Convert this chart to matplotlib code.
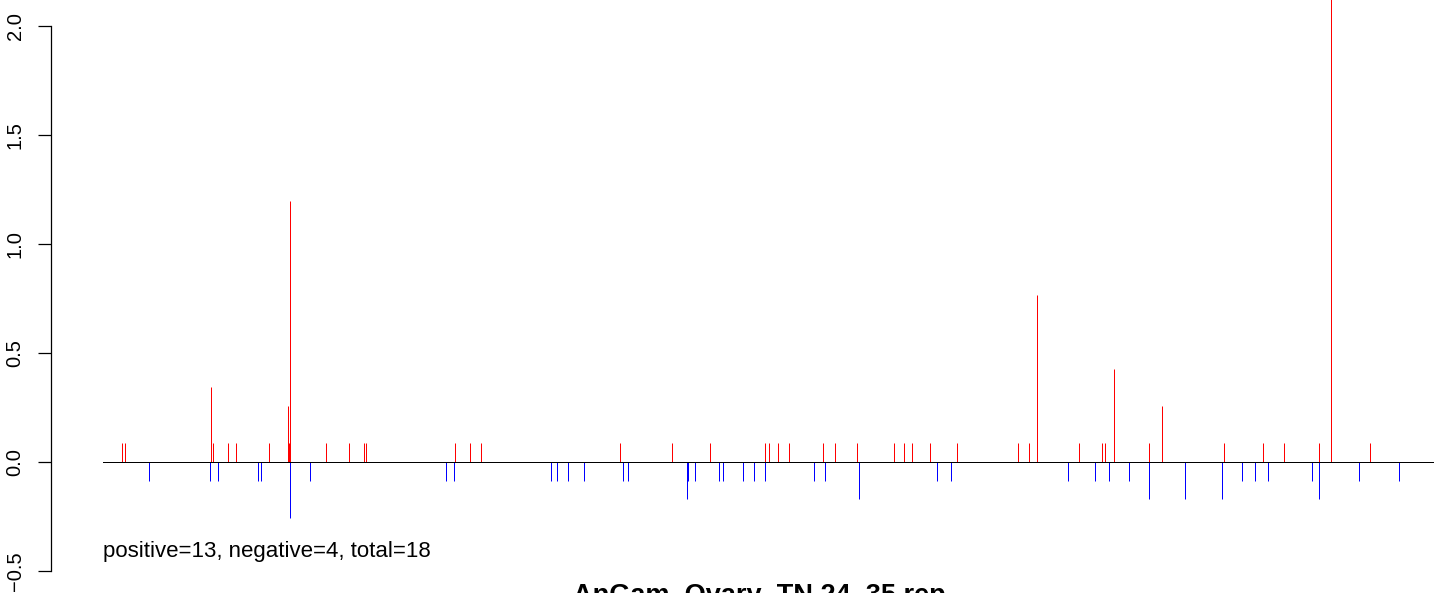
import matplotlib
matplotlib.use("Agg")
import matplotlib.pyplot as plt
from matplotlib.transforms import blended_transform_factory

plt.rcParams['font.family'] = ['Liberation Sans', 'DejaVu Sans']

# ---- data ----
pos_x = [18.7, 21.4, 108.0, 110.0, 125.0, 133.0, 166.0, 185.0, 186.0, 187.0,
         223.0, 246.0, 261.0, 263.0, 352.0, 367.0, 378.0, 517.0, 569.0, 607.0,
         662.0, 666.0, 675.0, 686.0, 720.0, 732.0, 754.0, 791.0, 801.0, 809.0,
         826.2, 854.0, 915.0, 926.0, 934.0, 976.0, 999.0, 1002.0, 1011.0, 1046.0,
         1058.3, 1120.3, 1159.2, 1180.4, 1216.0, 1227.2, 1228.0, 1267.0]
pos_y = [0.085, 0.085, 0.342, 0.085, 0.085, 0.085, 0.085, 0.254, 0.085, 1.195,
         0.085, 0.085, 0.085, 0.085, 0.085, 0.085, 0.085, 0.085, 0.085, 0.085,
         0.085, 0.085, 0.085, 0.085, 0.085, 0.085, 0.085, 0.085, 0.085, 0.085,
         0.085, 0.085, 0.085, 0.085, 0.766, 0.085, 0.085, 0.085, 0.427, 0.085,
         0.254, 0.085, 0.085, 0.085, 0.085, 0.342, 2.6, 0.085]

neg_x = [46, 107, 115, 155, 158, 187, 207, 343, 351, 448, 454, 465, 481, 520, 525,
         584, 585, 592, 616, 620, 640, 651, 662, 711, 722, 756, 833.2, 848.1, 965,
         992, 1006, 1026, 1046, 1082.1, 1118.2, 1138.4, 1151.2, 1164.4, 1209, 1216,
         1256, 1295.3]
neg_y = [-0.088, -0.088, -0.088, -0.088, -0.088, -0.256, -0.088, -0.088, -0.088,
         -0.088, -0.088, -0.088, -0.088, -0.088, -0.088, -0.171, -0.088, -0.088,
         -0.088, -0.088, -0.088, -0.088, -0.088, -0.088, -0.088, -0.171, -0.088,
         -0.088, -0.088, -0.088, -0.088, -0.088, -0.171, -0.171, -0.171, -0.088,
         -0.088, -0.088, -0.088, -0.171, -0.088, -0.088]

x_range = [0, 1330]
y_ticks = [-0.5, 0.0, 0.5, 1.0, 1.5, 2.0]
y_tick_labels = ["\u22120.5", "0.0", "0.5", "1.0", "1.5", "2.0"]
summary_text = "positive=13, negative=4, total=18"
title_text = "AnGam_Ovary_TN 24_35 rep"

# ---- figure ----
W, H = 1444, 593
fig = plt.figure(figsize=(W / 100, H / 100), dpi=100)
left_px = 50.7
ax = fig.add_axes([left_px / W, 0, 1 - left_px / W, 1])
ax.set_xlim(-52.6, 1340.7)
ax.set_ylim(-0.602, 2.118)
ax.patch.set_alpha(0)

ax.vlines(pos_x, 0, pos_y, colors='#FF0000', linewidth=0.72, snap=True, zorder=2)
ax.vlines(neg_x, 0, neg_y, colors='#0000FF', linewidth=0.72, snap=True, zorder=2)
ax.plot(x_range, [0, 0], color='black', linewidth=0.72, zorder=3)

for s in ['top', 'right', 'bottom']:
    ax.spines[s].set_visible(False)
ax.spines['left'].set_bounds(-0.5, 2.0)
ax.spines['left'].set_linewidth(0.9)
ax.set_xticks([])
ax.set_yticks(y_ticks)
ax.set_yticklabels([])
ax.tick_params(axis='y', length=9.4, width=0.9, direction='out')

tr = blended_transform_factory(fig.transFigure, ax.transData)
for v, lab in zip(y_ticks, y_tick_labels):
    ax.text(15 / W, v, lab, transform=tr, rotation=90, ha='center', va='center',
            fontsize=14.5, clip_on=False)

fig.text(103.3 / W, 1 - 556.7 / H, summary_text, ha='left', va='baseline', fontsize=16)
fig.text(759 / W, 1 - 603 / H, title_text, ha='center', va='baseline',
         fontsize=19.5, fontweight='bold')

fig.savefig('out.png', dpi=100)
